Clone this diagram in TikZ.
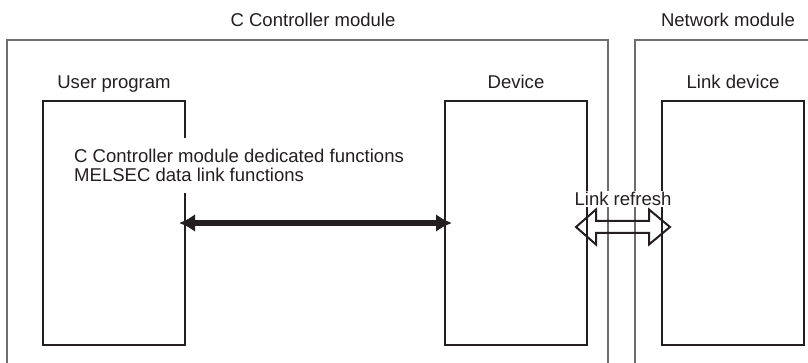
\documentclass[tikz,border=0pt]{standalone}
\usepackage{fontspec}
\setmainfont{Liberation Sans}
\usetikzlibrary{arrows.meta, positioning, calc}

\definecolor{inkline}{HTML}{231F20}
\definecolor{frameline}{HTML}{6E6E6E}

\begin{document}
\begin{tikzpicture}[
    x=0.75pt, y=-0.75pt,
    font=\fontsize{13.9}{15.75}\selectfont,
    text=inkline,
    frame/.style={draw=frameline, line width=1.1pt},
    area/.style={
      draw=inkline,
      line width=1.5pt,
      minimum width=106.5pt,
      minimum height=183pt,
      inner sep=0pt
    },
    title/.style={anchor=base},
    note/.style={fill=white, align=left, inner xsep=2pt, inner ysep=8pt,
      font=\fontsize{13.9}{14.6}\selectfont},
    tag/.style={fill=white, inner sep=1pt, anchor=base},
    access/.style={{Latex[length=12pt, width=13.5pt]}-{Latex[length=12pt, width=13.5pt]}, line width=4.5pt, draw=inkline},
    refresh/.style={draw=inkline, line width=1.5pt, line join=miter}
  ]

  \useasboundingbox (0,0) rectangle (808,363);

  % ===================== modules =====================
  \draw[frame] (7,363) |- (608,40) -- (608,363);
  \draw[frame] (635,363) |- (812,40);
  \node[title] (ccmod) at (313,26.6) {C Controller module};
  \node[title] (netmod) at (728,26.6) {Network module};

  % ===================== areas =====================
  \node[area, anchor=north west] (upbox) at (42,100) {};
  \node[area, right=193.5pt of upbox] (devbox) {};
  \node[area, right=54.75pt of devbox] (linkbox) {};

  \node[title, above=8.5pt of upbox.north, anchor=base] (uplabel) {User program};
  \node[title, above=8.5pt of devbox.north, anchor=base] (devlabel) {Device};
  \node[title, above=8.5pt of linkbox.north, anchor=base] (linklabel) {Link device};

  % ===================== functions =====================
  \node[note, anchor=north west] (fntext) at ([shift={(29.3,38)}]upbox.north west)
    {C Controller module dedicated functions\\MELSEC data link functions};
  \draw[access] ([xshift=-5.25pt]upbox.east) -- ([xshift=6pt]devbox.west);

  % ===================== link refresh =====================
  \coordinate (lrL) at ([shift={(-12,4)}]devbox.east);
  \draw[refresh] (lrL) -- ++(20,-17.5) -- ++(0,11.5) -- ++(53,0) -- ++(0,-11.5)
    -- ++(21,17.5) -- ++(-21,17.5) -- ++(0,-11.5) -- ++(-53,0) -- ++(0,11.5) -- cycle;
  \node[tag] (lrtext) at ([shift={(47,-21.5)}]lrL) {Link refresh};

\end{tikzpicture}
\end{document}
